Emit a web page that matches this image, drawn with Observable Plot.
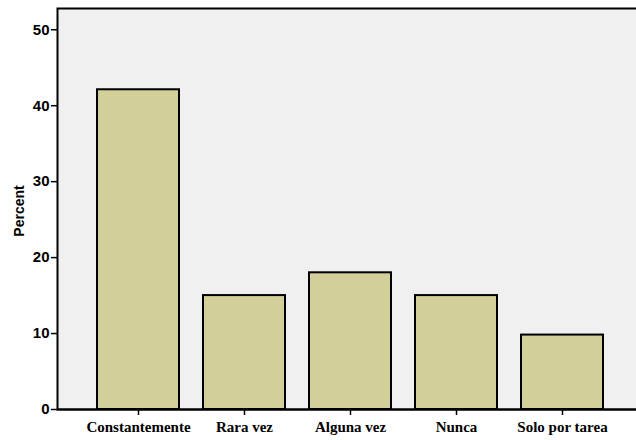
<!DOCTYPE html>
<html>
<head>
<meta charset="utf-8">
<script src="https://cdn.jsdelivr.net/npm/d3@7"></script>
<script src="https://cdn.jsdelivr.net/npm/@observablehq/plot@0.6"></script>
<style>
  html, body { margin: 0; padding: 0; background: #ffffff; overflow: hidden; }
  #chart { width: 636px; height: 440px; overflow: hidden; }
</style>
</head>
<body>
<div id="chart"></div>
<script>
const categories = ["Constantemente", "Rara vez", "Alguna vez", "Nunca", "Solo por tarea"];
const percents = [42.1, 15.0, 18.0, 15.0, 9.8];
const yTicks = [0, 10, 20, 30, 40, 50];

const data = categories.map((c, i) => ({category: c, percent: percents[i]}));

const chart = Plot.plot({
  width: 636,
  height: 440,
  marginLeft: 57,
  marginRight: -7,
  marginTop: 8,
  marginBottom: 31,
  style: {background: "transparent", overflow: "hidden"},
  x: {domain: categories, paddingInner: 0.226, paddingOuter: 0.377, label: null, axis: null},
  y: {domain: [0, 52.8], label: null, axis: null},
  marks: [
    Plot.frame({fill: "#f0f0f0", stroke: "#000", strokeWidth: 2}),
    Plot.barY(data, {x: "category", y: "percent", fill: "#d3cf98", stroke: "#000", strokeWidth: 2}),
    Plot.ruleY([0], {stroke: "#000", strokeWidth: 2}),
    Plot.axisY(yTicks, {
      anchor: "left", tickSize: 6, tickPadding: 2, label: null,
      fontSize: 15, fontWeight: "bold", fontFamily: "Liberation Sans, Arial, sans-serif",
      stroke: "#000", strokeWidth: 1.5
    }),
    Plot.axisX({
      anchor: "bottom", tickSize: 6, tickPadding: 6, label: null,
      fontSize: 15, fontWeight: "bold", fontFamily: "Liberation Serif, Times New Roman, serif",
      stroke: "#000", strokeWidth: 1.5
    }),
    Plot.text(["Percent"], {
      frameAnchor: "left", textAnchor: "middle", dx: -38, dy: 2, rotate: -90,
      fontSize: 14, fontWeight: "bold", fontFamily: "Liberation Sans, Arial, sans-serif", fill: "#000"
    })
  ]
});
document.getElementById("chart").appendChild(chart);
</script>
</body>
</html>
